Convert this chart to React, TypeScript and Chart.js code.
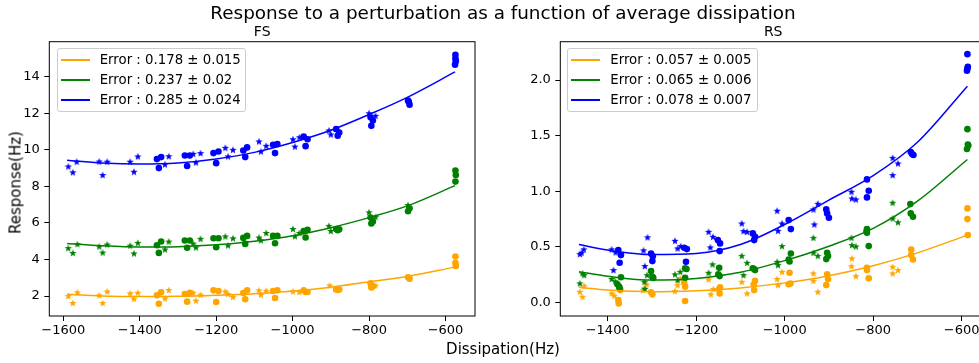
import React, { useEffect, useRef } from "react";
import { Chart, registerables } from "chart.js";

Chart.register(...registerables);

const FONT = "'DejaVu Sans', 'Liberation Sans', sans-serif";

type Pt = [number, number];

// ---------- Titles / labels ----------
const suptitle = "Response to a perturbation as a function of average dissipation";
const xLabel = "Dissipation(Hz)";
const yLabel = "Response(Hz)";
const fsTitle = "FS";
const rsTitle = "RS";
const fsLegend = ["Error : 0.178 \u00b1 0.015", "Error : 0.237 \u00b1 0.02", "Error : 0.285 \u00b1 0.024"];
const rsLegend = ["Error : 0.057 \u00b1 0.005", "Error : 0.065 \u00b1 0.006", "Error : 0.078 \u00b1 0.007"];
const seriesColors = ["#ffa500", "#008000", "#0000ff"]; // orange, green, blue

// ---------- Tick values ----------
const fsXTicks = [-1600, -1400, -1200, -1000, -800, -600];
const fsYTicks = [2, 4, 6, 8, 10, 12, 14];
const rsXTicks = [-1400, -1200, -1000, -800, -600];
const rsYTicks = [0, 0.5, 1.0, 1.5, 2.0];

// ---------- FS fitted lines ----------
const fsLineX = [-1590, -1500, -1400, -1300, -1200, -1100, -1000, -900, -800, -700, -575];
const fsOrangeLineY = [2.1, 2.0, 1.97, 1.98, 2.04, 2.13, 2.27, 2.48, 2.78, 3.07, 3.58];
const fsGreenLineY = [4.87, 4.75, 4.68, 4.7, 4.8, 5.0, 5.3, 5.74, 6.29, 6.93, 8.04];
const fsBlueLineY = [9.43, 9.28, 9.22, 9.28, 9.5, 9.86, 10.4, 11.07, 11.93, 12.87, 14.26];

// ---------- FS points ----------
const fsOrangeStars: Pt[] = [
  [-1587, 2.0], [-1575, 1.62], [-1563, 2.2], [-1506, 2.04], [-1497, 1.62], [-1485, 2.25],
  [-1425, 2.15], [-1415, 1.85], [-1405, 2.18], [-1334, 1.87], [-1324, 2.33], [-1260, 2.18],
  [-1253, 1.75], [-1241, 2.07], [-1176, 2.25], [-1169, 2.11], [-1156, 1.95], [-1088, 2.31],
  [-1083, 2.07], [-1069, 2.29], [-999, 2.25], [-982, 2.22], [-903, 2.58], [-783, 2.58],
];
const fsOrangeCircles: Pt[] = [
  [-1355, 2.04], [-1350, 1.58], [-1344, 2.2], [-1282, 2.11], [-1276, 1.69], [-1269, 2.18],
  [-1207, 2.31], [-1200, 1.67], [-1194, 2.27], [-1129, 2.16], [-1124, 1.82], [-1119, 2.31],
  [-1051, 2.27], [-1046, 1.89], [-1040, 2.31], [-971, 2.31], [-966, 2.22], [-961, 2.22],
  [-886, 2.36], [-882, 2.33], [-878, 2.36], [-796, 2.69], [-794, 2.47], [-790, 2.53],
  [-698, 3.02], [-694, 2.95], [-574, 4.16], [-574, 3.82], [-573, 3.64],
];
const fsGreenStars: Pt[] = [
  [-1587, 4.62], [-1575, 4.36], [-1563, 4.84], [-1506, 4.71], [-1497, 4.38], [-1485, 4.82],
  [-1425, 4.76], [-1415, 4.33], [-1405, 4.91], [-1334, 4.55], [-1324, 4.98], [-1260, 4.87],
  [-1253, 4.66], [-1241, 5.13], [-1176, 5.26], [-1169, 4.77], [-1156, 5.16], [-1088, 5.2],
  [-1083, 5.05], [-1069, 5.45], [-999, 5.67], [-994, 5.27], [-982, 5.45], [-905, 5.84],
  [-900, 5.56], [-800, 6.58], [-783, 6.33], [-698, 6.98],
];
const fsGreenCircles: Pt[] = [
  [-1355, 4.78], [-1350, 4.36], [-1344, 4.98], [-1282, 5.04], [-1276, 4.64], [-1269, 5.04],
  [-1207, 5.16], [-1200, 4.67], [-1194, 5.16], [-1129, 5.18], [-1124, 4.85], [-1119, 5.29],
  [-1051, 5.29], [-1046, 4.89], [-1040, 5.29], [-971, 5.56], [-966, 5.2], [-961, 5.62],
  [-886, 5.67], [-882, 5.6], [-878, 5.65], [-796, 6.29], [-794, 5.97], [-790, 6.07],
  [-698, 6.64], [-694, 6.8], [-574, 8.87], [-573, 8.62], [-574, 8.26],
];
const fsBlueStars: Pt[] = [
  [-1587, 9.09], [-1575, 8.77], [-1565, 9.35], [-1506, 9.36], [-1497, 8.62], [-1485, 9.35],
  [-1425, 9.35], [-1415, 8.8], [-1405, 9.64], [-1334, 9.2], [-1324, 9.65], [-1260, 9.78],
  [-1253, 9.31], [-1241, 9.82], [-1176, 10.11], [-1169, 9.64], [-1156, 10.0], [-1088, 10.46],
  [-1083, 9.91], [-1069, 10.22], [-999, 10.58], [-994, 10.18], [-982, 10.69], [-905, 11.06],
  [-900, 10.84], [-800, 12.0], [-783, 11.86],
];
const fsBlueCircles: Pt[] = [
  [-1355, 9.49], [-1350, 9.0], [-1344, 9.6], [-1282, 9.69], [-1276, 9.11], [-1269, 9.69],
  [-1207, 9.82], [-1200, 9.27], [-1194, 9.91], [-1129, 9.96], [-1124, 9.6], [-1119, 10.13],
  [-1051, 10.27], [-1046, 9.82], [-1040, 10.31], [-971, 10.73], [-966, 10.2], [-961, 10.58],
  [-886, 11.13], [-882, 10.77], [-878, 10.95], [-796, 11.78], [-794, 11.31], [-790, 11.6],
  [-698, 12.69], [-694, 12.47], [-696, 12.63], [-574, 15.2], [-574, 15.0], [-575, 14.66], [-573, 14.85],
];

// ---------- RS fitted lines ----------
const rsLineX = [-1465, -1400, -1300, -1200, -1100, -1000, -900, -800, -700, -587];
const rsOrangeLineY = [0.135, 0.11, 0.095, 0.105, 0.13, 0.175, 0.24, 0.33, 0.445, 0.605];
const rsGreenLineY = [0.275, 0.235, 0.2, 0.215, 0.27, 0.375, 0.505, 0.665, 0.91, 1.285];
const rsBlueLineY = [0.52, 0.47, 0.43, 0.44, 0.52, 0.7, 0.92, 1.14, 1.44, 1.945];

// ---------- RS points ----------
const rsOrangeStars: Pt[] = [
  [-1463, 0.095], [-1457, 0.05], [-1453, 0.149], [-1391, 0.081], [-1385, 0.06], [-1317, 0.131],
  [-1312, 0.162], [-1320, 0.11], [-1248, 0.101], [-1242, 0.155], [-1236, 0.216], [-1172, 0.207],
  [-1161, 0.12], [-1167, 0.072], [-1097, 0.185], [-1085, 0.081], [-1006, 0.275], [-1017, 0.21],
  [-1015, 0.155], [-935, 0.261], [-935, 0.194], [-925, 0.095], [-848, 0.396], [-849, 0.326],
  [-839, 0.236], [-756, 0.32], [-756, 0.261], [-744, 0.29],
];
const rsOrangeCircles: Pt[] = [
  [-1376, 0.021], [-1375, -0.01], [-1371, 0.11], [-1302, 0.09], [-1299, 0.072], [-1227, 0.176],
  [-1225, 0.14], [-1225, 0.012], [-1148, 0.117], [-1147, 0.08], [-1146, 0.135], [-1067, 0.194],
  [-1070, 0.16], [-1069, 0.11], [-989, 0.266], [-991, 0.162], [-987, 0.17], [-904, 0.252],
  [-902, 0.21], [-906, 0.155], [-814, 0.311], [-814, 0.29], [-810, 0.216], [-714, 0.476],
  [-714, 0.425], [-710, 0.386], [-587, 0.845], [-587, 0.749], [-586, 0.605],
];
const rsGreenStars: Pt[] = [
  [-1463, 0.171], [-1457, 0.26], [-1453, 0.245], [-1391, 0.21], [-1383, 0.19], [-1317, 0.185],
  [-1311, 0.245], [-1316, 0.12], [-1248, 0.252], [-1242, 0.2], [-1236, 0.275], [-1172, 0.266],
  [-1163, 0.342], [-1097, 0.419], [-1085, 0.356], [-1093, 0.245], [-1006, 0.506], [-1017, 0.365],
  [-1015, 0.335], [-935, 0.581], [-935, 0.446], [-925, 0.419], [-849, 0.581], [-848, 0.515],
  [-839, 0.503], [-756, 0.896], [-756, 0.755], [-744, 0.72],
];
const rsGreenCircles: Pt[] = [
  [-1370, 0.225], [-1378, 0.162], [-1374, 0.14], [-1373, 0.125], [-1302, 0.281], [-1299, 0.23],
  [-1297, 0.22], [-1225, 0.306], [-1222, 0.3], [-1225, 0.221], [-1148, 0.311], [-1150, 0.252],
  [-1147, 0.236], [-1072, 0.306], [-1069, 0.3], [-1067, 0.29], [-986, 0.44], [-991, 0.386],
  [-989, 0.368], [-904, 0.446], [-902, 0.416], [-906, 0.389], [-814, 0.659], [-814, 0.626],
  [-815, 0.64], [-810, 0.506], [-716, 0.884], [-715, 0.8], [-710, 0.77], [-587, 1.558],
  [-586, 1.42], [-588, 1.38], [-585, 1.41],
];
const rsBlueStars: Pt[] = [
  [-1463, 0.434], [-1459, 0.446], [-1454, 0.477], [-1391, 0.477], [-1382, 0.45], [-1387, 0.29],
  [-1310, 0.585], [-1319, 0.468], [-1316, 0.326], [-1248, 0.554], [-1242, 0.485], [-1235, 0.506],
  [-1172, 0.635], [-1162, 0.59], [-1168, 0.495], [-1097, 0.71], [-1093, 0.641], [-1085, 0.635],
  [-1017, 0.824], [-1006, 0.71], [-1015, 0.644], [-925, 0.887], [-935, 0.836], [-933, 0.701],
  [-849, 0.995], [-848, 0.935], [-839, 0.926], [-756, 1.3], [-744, 1.25], [-756, 1.145],
];
const rsBlueCircles: Pt[] = [
  [-1376, 0.47], [-1370, 0.425], [-1373, 0.356], [-1302, 0.44], [-1298, 0.414], [-1299, 0.371],
  [-1227, 0.491], [-1221, 0.479], [-1223, 0.365], [-1151, 0.56], [-1146, 0.53], [-1147, 0.461],
  [-1072, 0.62], [-1067, 0.59], [-1069, 0.56], [-991, 0.74], [-986, 0.659], [-906, 0.836],
  [-904, 0.8], [-900, 0.761], [-814, 1.106], [-810, 1.004], [-814, 0.944], [-715, 1.352],
  [-712, 1.334], [-709, 1.325], [-587, 2.233], [-587, 2.104], [-586, 2.119], [-588, 2.083],
];

// ---------- helpers ----------
const starCache: Record<string, HTMLCanvasElement> = {};
function makeStar(color: string): HTMLCanvasElement {
  if (starCache[color]) return starCache[color];
  const c = document.createElement("canvas");
  c.width = 10;
  c.height = 10;
  const ctx = c.getContext("2d")!;
  const R = 3.9;
  const r = R * 0.42;
  const cx = 5;
  const cy = 5.3;
  ctx.beginPath();
  for (let i = 0; i < 10; i++) {
    const ang = -Math.PI / 2 + (i * Math.PI) / 5;
    const rad = i % 2 === 0 ? R : r;
    const px = cx + rad * Math.cos(ang);
    const py = cy + rad * Math.sin(ang);
    if (i === 0) ctx.moveTo(px, py);
    else ctx.lineTo(px, py);
  }
  ctx.closePath();
  ctx.fillStyle = color;
  ctx.fill();
  starCache[color] = c;
  return c;
}

const toXY = (a: Pt[]) => a.map(([x, y]) => ({ x, y }));
const zipXY = (xs: number[], ys: number[]) => xs.map((x, i) => ({ x, y: ys[i] }));
const fmtMinus = (v: number, dec: number) => {
  const s = dec > 0 ? Math.abs(v).toFixed(dec) : String(Math.abs(v));
  return (v < 0 ? "\u2212" : "") + s;
};

const framePlugin = {
  id: "frame",
  afterDraw(chart: any) {
    const { ctx, chartArea: a } = chart;
    ctx.save();
    ctx.strokeStyle = "#000";
    ctx.lineWidth = 1;
    ctx.strokeRect(a.left, a.top, a.right - a.left, a.bottom - a.top);
    ctx.restore();
  },
};

interface PanelDef {
  lineX: number[];
  lineYs: number[][];
  stars: Pt[][];
  circles: Pt[][];
  xMin: number;
  xMax: number;
  yMin: number;
  yMax: number;
  xTicks: number[];
  yTicks: number[];
  yDec: number;
  yAxisWidth: number;
  padRight: number;
}

function buildConfig(p: PanelDef): any {
  const datasets: any[] = [];
  // fitted lines (first => drawn on top)
  p.lineYs.forEach((ys, i) => {
    datasets.push({
      type: "line",
      data: zipXY(p.lineX, ys),
      borderColor: seriesColors[i],
      borderWidth: 1.5,
      pointRadius: 0,
      fill: false,
      cubicInterpolationMode: "monotone",
    });
  });
  for (let i = seriesColors.length - 1; i >= 0; i--) {
    datasets.push({
      type: "scatter",
      data: toXY(p.stars[i]),
      pointStyle: makeStar(seriesColors[i]),
      pointRadius: 3,
      backgroundColor: seriesColors[i],
      borderWidth: 0,
    });
    datasets.push({
      type: "scatter",
      data: toXY(p.circles[i]),
      pointStyle: "circle",
      pointRadius: 3.3,
      backgroundColor: seriesColors[i],
      borderColor: seriesColors[i],
      borderWidth: 0,
    });
  }
  const tickFont = { family: FONT, size: 13 };
  return {
    type: "scatter",
    data: { datasets },
    plugins: [framePlugin],
    options: {
      animation: false,
      responsive: false,
      devicePixelRatio: 1,
      events: [],
      layout: { padding: { top: 41.7, right: p.padRight, left: 0, bottom: 0 } },
      plugins: {
        legend: { display: false },
        tooltip: { enabled: false },
        title: { display: false },
      },
      scales: {
        x: {
          type: "linear",
          min: p.xMin,
          max: p.xMax,
          afterBuildTicks: (s: any) => {
            s.ticks = p.xTicks.map((v) => ({ value: v }));
          },
          afterFit: (s: any) => {
            s.height = 47;
          },
          border: { display: false },
          grid: {
            display: true,
            drawOnChartArea: false,
            drawTicks: true,
            tickLength: 5,
            tickColor: "#000",
            tickWidth: 1,
          },
          ticks: {
            color: "#000",
            font: tickFont,
            padding: 2,
            maxRotation: 0,
            autoSkip: false,
            callback: (v: number) => fmtMinus(v, 0),
          },
        },
        y: {
          type: "linear",
          min: p.yMin,
          max: p.yMax,
          afterBuildTicks: (s: any) => {
            s.ticks = p.yTicks.map((v) => ({ value: v }));
          },
          afterFit: (s: any) => {
            s.width = p.yAxisWidth;
          },
          border: { display: false },
          grid: {
            display: true,
            drawOnChartArea: false,
            drawTicks: true,
            tickLength: 5,
            tickColor: "#000",
            tickWidth: 1,
          },
          ticks: {
            color: "#000",
            font: tickFont,
            padding: 4.5,
            autoSkip: false,
            callback: (v: number) => fmtMinus(v, p.yDec),
          },
        },
      },
    },
  };
}

const fsPanel: PanelDef = {
  lineX: fsLineX,
  lineYs: [fsOrangeLineY, fsGreenLineY, fsBlueLineY],
  stars: [fsOrangeStars, fsGreenStars, fsBlueStars],
  circles: [fsOrangeCircles, fsGreenCircles, fsBlueCircles],
  xMin: -1636.6,
  xMax: -522.8,
  yMin: 0.906,
  yMax: 15.915,
  xTicks: fsXTicks,
  yTicks: fsYTicks,
  yDec: 0,
  yAxisWidth: 49.3,
  padRight: 25,
};

const rsPanel: PanelDef = {
  lineX: rsLineX,
  lineYs: [rsOrangeLineY, rsGreenLineY, rsBlueLineY],
  stars: [rsOrangeStars, rsGreenStars, rsBlueStars],
  circles: [rsOrangeCircles, rsGreenCircles, rsBlueCircles],
  xMin: -1507.1,
  xMax: -545,
  yMin: -0.123,
  yMax: 2.345,
  xTicks: rsXTicks,
  yTicks: rsYTicks,
  yDec: 1,
  yAxisWidth: 50.3,
  padRight: 14,
};

function ChartPanel({ def, left, width }: { def: PanelDef; left: number; width: number }) {
  const ref = useRef<HTMLCanvasElement>(null);
  useEffect(() => {
    Chart.defaults.font.family = FONT;
    const chart = new Chart(ref.current!, buildConfig(def));
    return () => chart.destroy();
  }, [def]);
  return (
    <canvas
      ref={ref}
      width={width}
      height={363}
      style={{ position: "absolute", left, top: 0, width, height: 363, display: "block" }}
    />
  );
}

function Legend({ left, width, labels }: { left: number; width: number; labels: string[] }) {
  return (
    <div
      style={{
        position: "absolute",
        left,
        top: 48,
        width,
        height: 64,
        boxSizing: "border-box",
        border: "1px solid #cccccc",
        borderRadius: 3,
        background: "rgba(255,255,255,0.8)",
      }}
    >
      {labels.map((t, i) => (
        <div key={i} style={{ position: "absolute", left: 0, top: 1 + i * 20, height: 20, width: "100%" }}>
          <div
            style={{
              position: "absolute",
              left: 3,
              top: 9,
              width: 29,
              height: 2,
              backgroundColor: seriesColors[i],
            }}
          />
          <div
            style={{
              position: "absolute",
              left: 42,
              top: 0,
              lineHeight: "20px",
              fontSize: 13.3,
              fontFamily: FONT,
              whiteSpace: "nowrap",
              color: "#000",
            }}
          >
            {t}
          </div>
        </div>
      ))}
    </div>
  );
}

function Text({
  cx,
  top,
  size,
  children,
}: {
  cx: number;
  top: number;
  size: number;
  children: React.ReactNode;
}) {
  return (
    <div
      style={{
        position: "absolute",
        left: cx - 400,
        width: 800,
        top,
        textAlign: "center",
        fontSize: size,
        lineHeight: `${size}px`,
        fontFamily: FONT,
        color: "#000",
        whiteSpace: "nowrap",
      }}
    >
      {children}
    </div>
  );
}

export default function App() {
  return (
    <div
      style={{
        position: "absolute",
        left: 0,
        top: 0,
        width: 979,
        height: 363,
        overflow: "hidden",
        background: "#fff",
      }}
    >
      <ChartPanel def={fsPanel} left={0} width={500} />
      <ChartPanel def={rsPanel} left={510} width={490} />
      <Legend left={56.7} width={189.3} labels={fsLegend} />
      <Legend left={567.3} width={191} labels={rsLegend} />
      <Text cx={503} top={4.4} size={18.4}>
        {suptitle}
      </Text>
      <Text cx={262.2} top={24.2} size={14}>
        {fsTitle}
      </Text>
      <Text cx={773.2} top={24.2} size={14}>
        {rsTitle}
      </Text>
      <Text cx={503} top={341.5} size={15}>
        {xLabel}
      </Text>
      <div
        style={{
          position: "absolute",
          left: 16.3 - 100,
          top: 182.5 - 7.5,
          width: 200,
          height: 15,
          textAlign: "center",
          fontSize: 15,
          lineHeight: "15px",
          fontFamily: FONT,
          color: "#000",
          whiteSpace: "nowrap",
          transform: "rotate(-90deg)",
          transformOrigin: "50% 50%",
        }}
      >
        {yLabel}
      </div>
    </div>
  );
}
